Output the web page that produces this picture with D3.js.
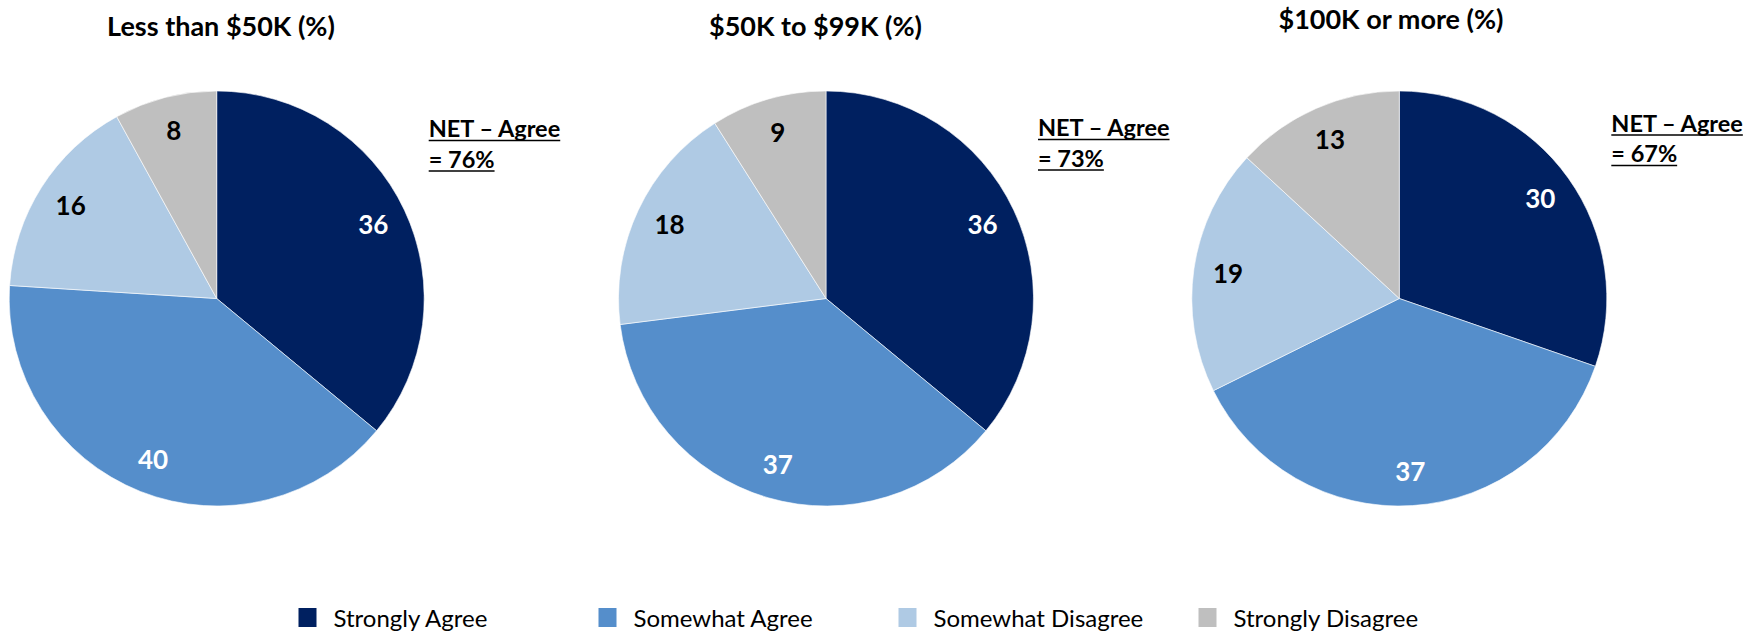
<!DOCTYPE html>
<html>
<head>
<meta charset="utf-8">
<script src="https://cdn.jsdelivr.net/npm/d3@7"></script>
<style>
  html, body { margin: 0; padding: 0; background: #ffffff; }
  svg { display: block; }
  text { font-family: Lato, "Open Sans", sans-serif; }
</style>
</head>
<body>
<svg id="chart" width="1759" height="634"></svg>
<script>
// ---- Data ----
const categories = ["Strongly Agree", "Somewhat Agree", "Somewhat Disagree", "Strongly Disagree"];
const groups = ["Less than $50K (%)", "$50K to $99K (%)", "$100K or more (%)"];
const lessThan50K = [36, 40, 16, 8];
const from50Kto99K = [36, 37, 18, 9];
const over100K = [30, 37, 19, 13];
const netAgree = ["NET \u2013 Agree", "NET \u2013 Agree", "NET \u2013 Agree"];
const netAgreeValues = ["= 76%", "= 73%", "= 67%"];
const seriesByGroup = [lessThan50K, from50Kto99K, over100K];

// ---- Style / layout ----
const colors = ["#002060", "#558ECB", "#AFCAE4", "#BFBFBF"];
const labelColors = ["#ffffff", "#ffffff", "#000000", "#000000"];
const R = 207.5;
const panels = [
  { cx: 216.7, cy: 298.5, titleX: 221, titleY: 36, netY: 137 },
  { cx: 826,   cy: 298.5, titleX: 815.5, titleY: 36, netY: 136 },
  { cx: 1399.3, cy: 298.5, titleX: 1391, titleY: 29, netY: 131.5 }
];

const svg = d3.select("#chart");
const color = d3.scaleOrdinal().domain(categories).range(colors);
const labelColor = d3.scaleOrdinal().domain(categories).range(labelColors);

const pie = d3.pie().sort(null).value(d => d.value);
const arc = d3.arc().innerRadius(0).outerRadius(R);
const labelArc = d3.arc().innerRadius(173).outerRadius(173);

seriesByGroup.forEach((vals, gi) => {
  const p = panels[gi];
  const data = vals.map((v, i) => ({ cat: categories[i], value: v }));
  const g = svg.append("g").attr("transform", `translate(${p.cx},${p.cy})`);
  const arcs = pie(data);

  g.selectAll("path.slice").data(arcs).join("path")
    .attr("class", "slice")
    .attr("d", arc)
    .attr("fill", d => color(d.data.cat))
    .attr("stroke", "#ffffff")
    .attr("stroke-width", 0.6);

  g.selectAll("text.val").data(arcs).join("text")
    .attr("class", "val")
    .attr("transform", d => `translate(${labelArc.centroid(d)})`)
    .attr("text-anchor", "middle")
    .attr("dy", "0.36em")
    .attr("font-size", 26)
    .attr("font-weight", 700)
    .attr("fill", d => labelColor(d.data.cat))
    .text(d => d.data.value);

  // title
  svg.append("text")
    .attr("x", p.titleX).attr("y", p.titleY)
    .attr("text-anchor", "middle")
    .attr("font-size", 27)
    .attr("font-weight", 700)
    .attr("fill", "#000")
    .text(groups[gi]);

  // NET annotation
  const nx = p.cx + 212;
  [netAgree[gi], netAgreeValues[gi]].forEach((t, li) => {
    const y = p.netY + li * 30.5;
    const tx = svg.append("text")
      .attr("x", nx).attr("y", y)
      .attr("font-size", 23.5)
      .attr("font-weight", 700)
      .attr("fill", "#000")
      .text(t);
    const w = tx.node().getComputedTextLength();
    svg.append("line")
      .attr("x1", nx).attr("x2", nx + w)
      .attr("y1", y + 3.5).attr("y2", y + 3.5)
      .attr("stroke", "#000").attr("stroke-width", 1.6);
  });
});

// ---- Legend ----
const legendX = d3.scalePoint().domain(categories).range([298.5, 1198.5]);
const lg = svg.append("g");
categories.forEach(c => {
  const x = legendX(c);
  lg.append("rect")
    .attr("x", x).attr("y", 608)
    .attr("width", 18).attr("height", 19)
    .attr("fill", color(c));
  lg.append("text")
    .attr("x", x + 35).attr("y", 627)
    .attr("font-size", 24)
    .attr("fill", "#000")
    .text(c);
});
</script>
</body>
</html>
